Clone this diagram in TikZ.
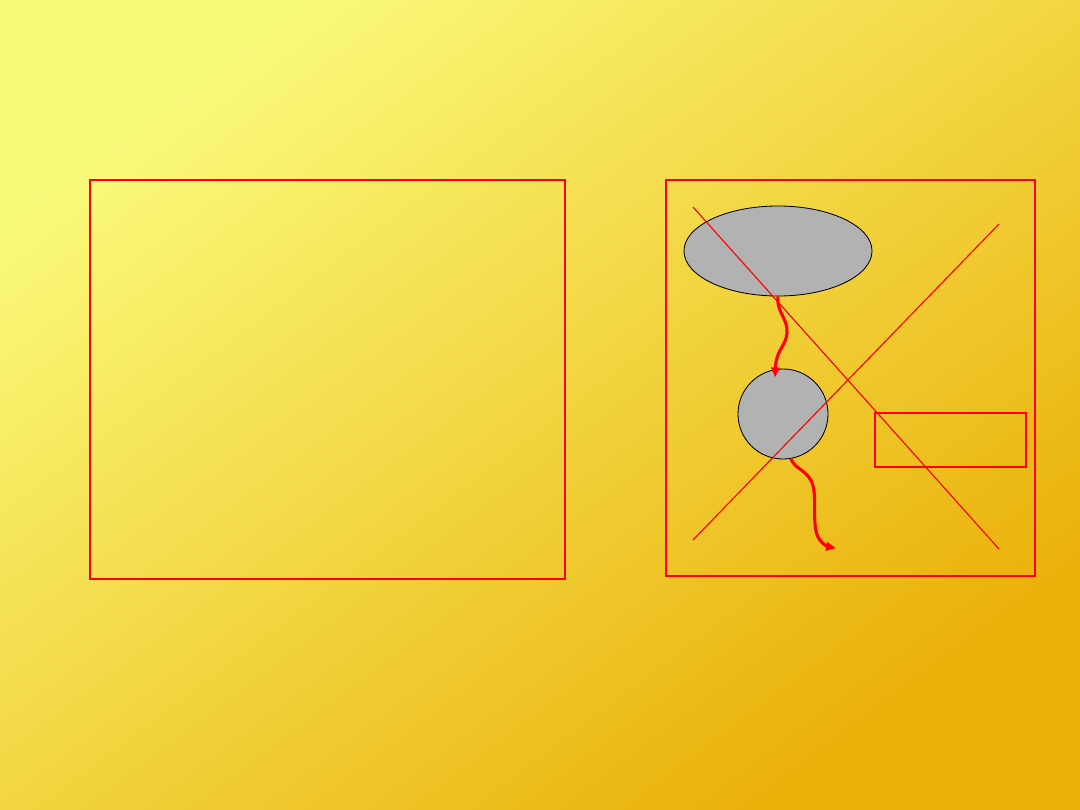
\documentclass[tikz,border=0pt]{standalone}
\usetikzlibrary{shapes.geometric,arrows.meta}
\definecolor{paleyellow}{RGB}{250,250,122}
\definecolor{deepgold}{RGB}{234,176,8}
\tikzset{blob/.style = {draw = black, fill = gray!60, line width = 0.6pt, inner sep = 0pt},
	wavy/.style = {red, line width = 2.2pt, -{Triangle[length = 7pt, width = 6pt]}}}
\begin{document}
\begin{tikzpicture}[x = 0.025cm, y = -0.025cm]
		\shade[top color = paleyellow, bottom color = deepgold, shading angle = 37] (0, 0) rectangle (1080, 810);
		\useasboundingbox (0, 0) rectangle (1080, 810);
		\draw[red, line width = 1.3pt] (90, 180) rectangle (565, 579);
		\draw[red, line width = 2pt] (666, 180) rectangle (1035, 576);
		\node[blob, ellipse, minimum width = 4.7cm, minimum height = 2.25cm] (cloud) at (778, 251) {};
		\node[blob, circle, minimum size = 2.25cm] (ball) at (783, 414) {};
		\node[draw = red, line width = 0.9pt, minimum width = 3.775cm, minimum height = 1.35cm, inner sep = 0pt] (box) at (950.5, 440) {};
		\draw[red, line width = 0.8pt] (693, 207) -- (999, 549);
		\draw[red, line width = 0.8pt] (693, 540) -- (999, 224);
		\coordinate (sink) at (836, 548);
		\draw[wavy] (cloud.south) .. controls (776, 312) and (788, 318) .. (787, 333) .. controls (786, 346) and (776, 350) .. ([yshift = -0.2cm]ball.100);
		\draw[wavy] (ball.-80) .. controls (795, 470) and (809, 470) .. (813, 486) .. controls (817, 500) and (811, 530) .. (820, 540) .. controls (824, 546) and (830, 547) .. (sink);
	\end{tikzpicture}
\end{document}
